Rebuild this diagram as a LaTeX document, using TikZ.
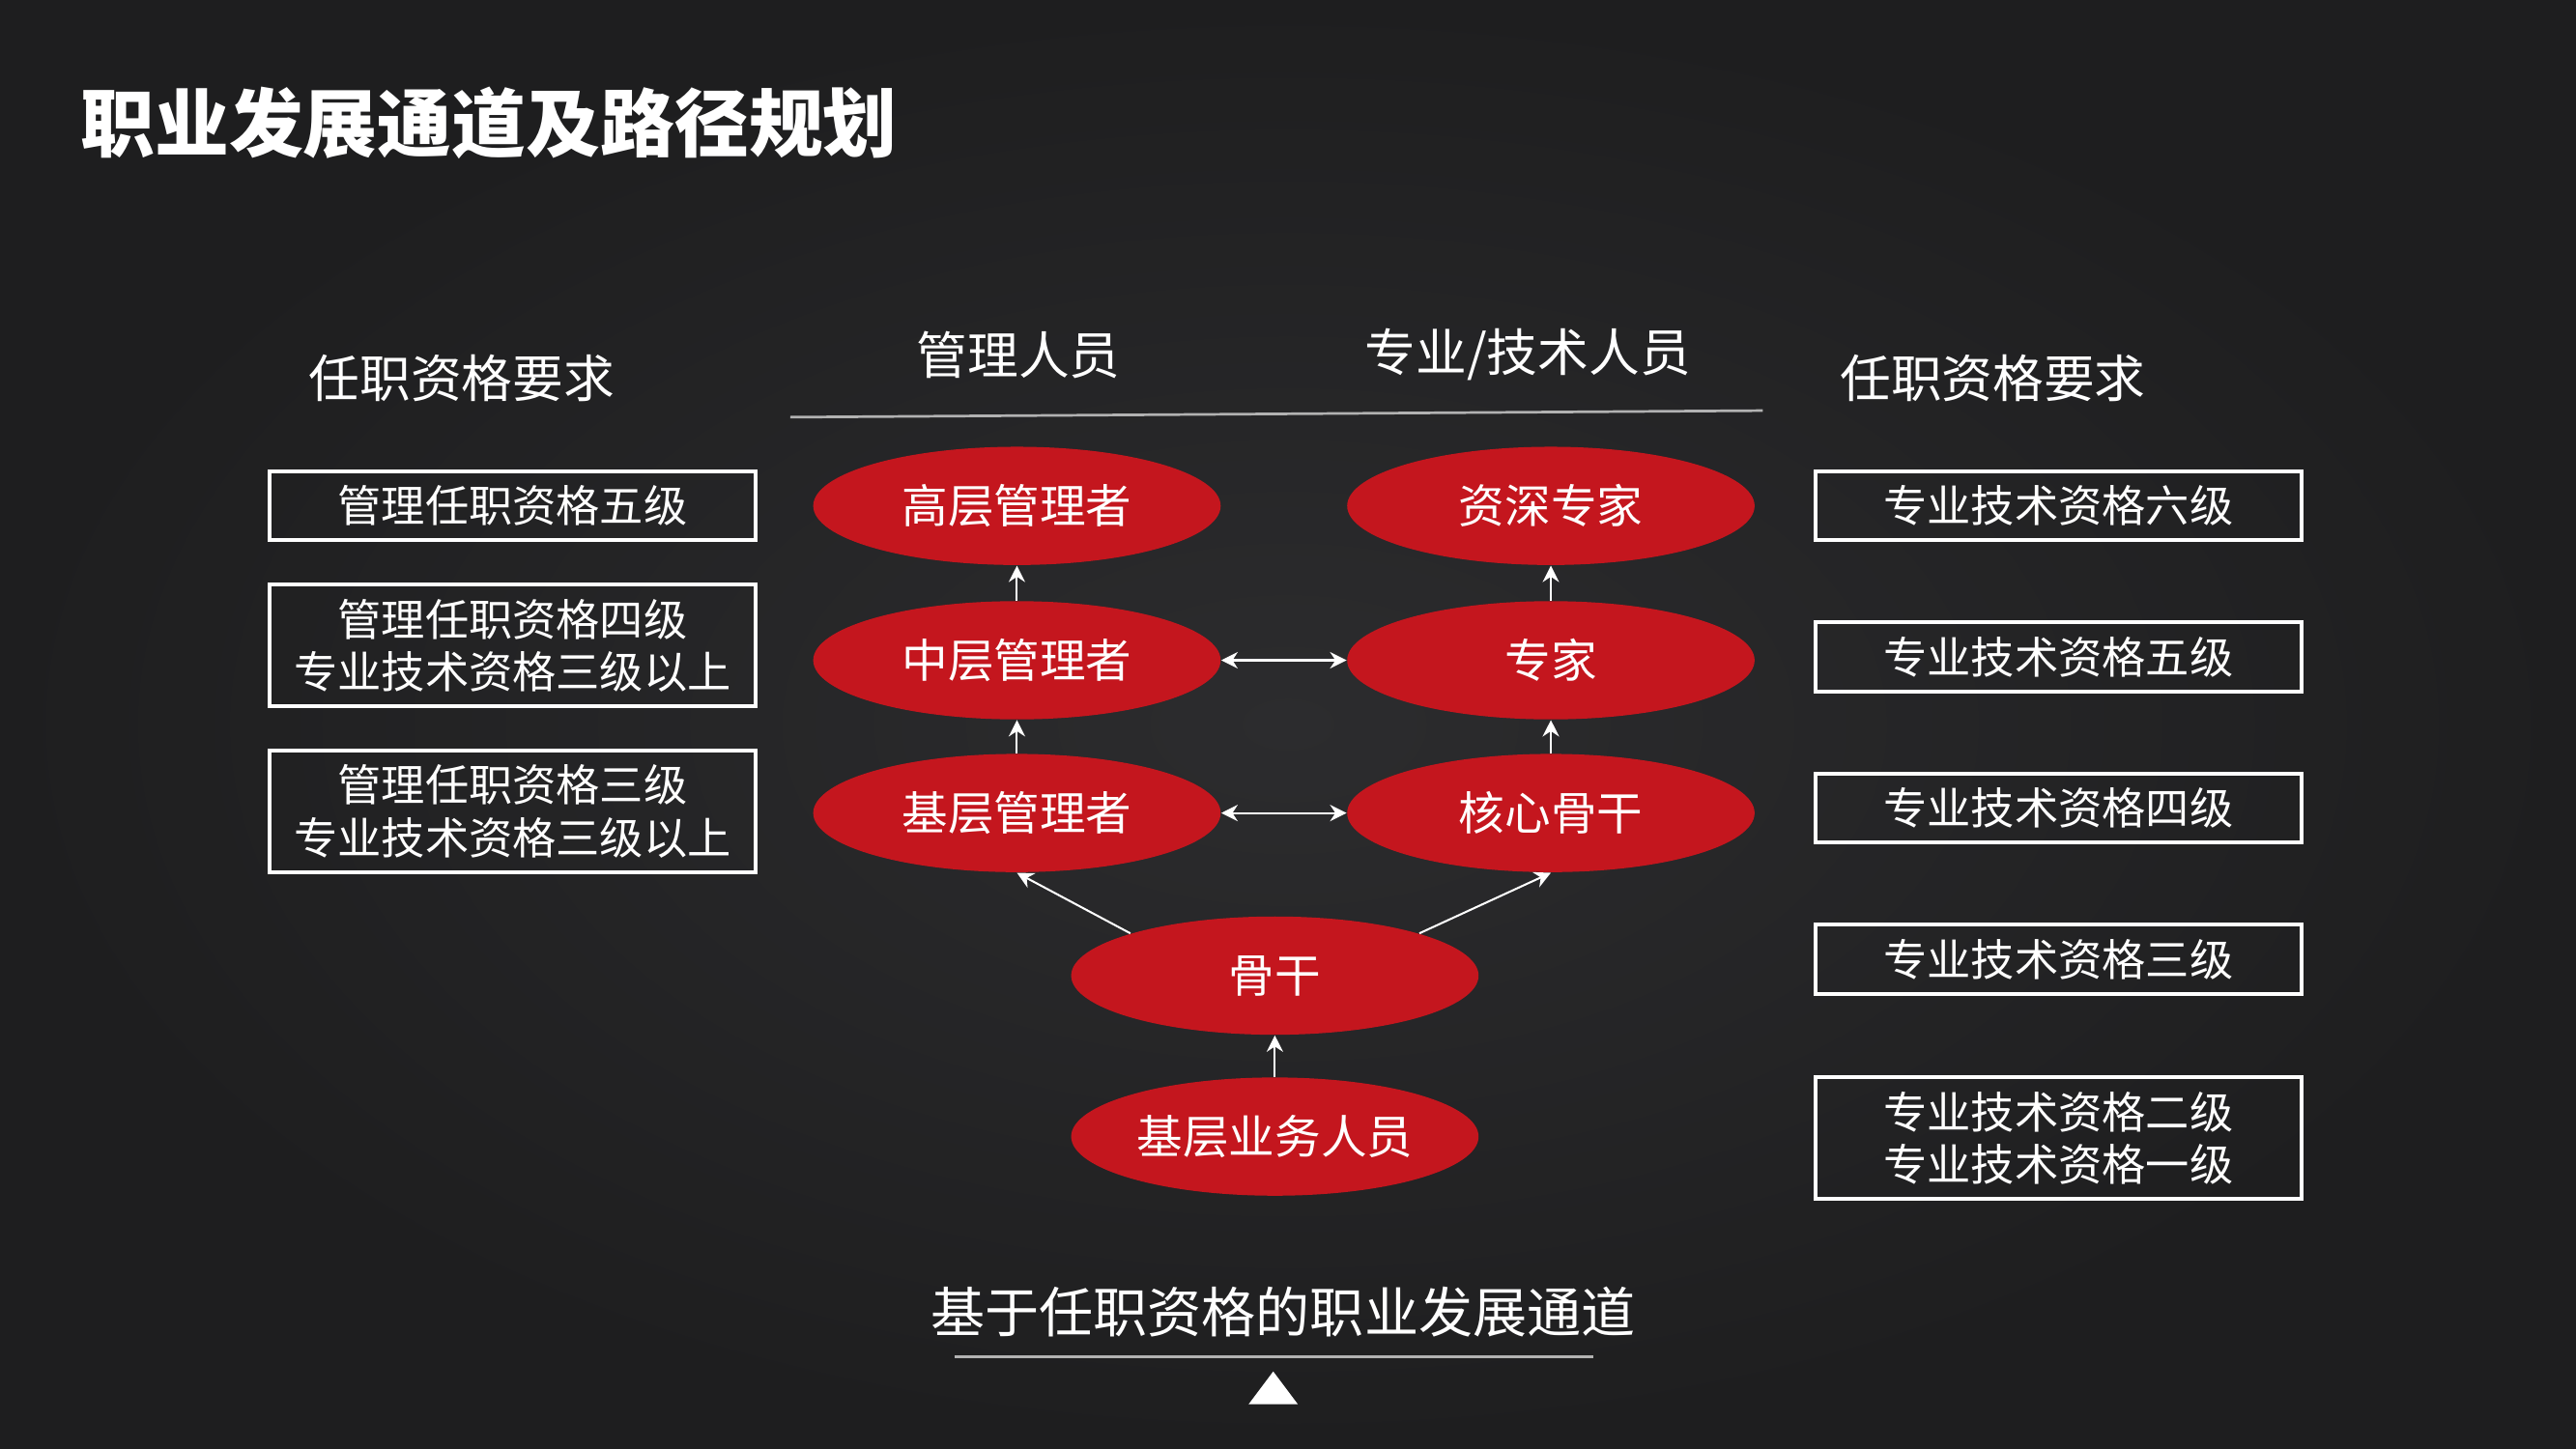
\documentclass[tikz,border=0pt]{standalone}
\usepackage{fontspec}
\setmainfont{Noto Sans CJK SC}
\usetikzlibrary{arrows.meta,shapes.geometric}
\definecolor{bgdark}{RGB}{30,30,31}
\definecolor{bgmid}{RGB}{44,44,46}
\definecolor{redfill}{RGB}{196,22,30}
\tikzset{
  qual/.style={draw=white,line width=1.2pt,minimum width=148pt,align=center,text=white,font=\fontsize{13.3}{16}\selectfont},
  post/.style={ellipse,fill=redfill,minimum width=124pt,minimum height=36pt,inner sep=0pt,text=white,font=\fontsize{14}{16}\selectfont},
  head/.style={text=white,font=\fontsize{15.5}{18}\selectfont},
  arr/.style={-{Stealth[length=5pt,width=5pt]},white,line width=0.6pt},
  darr/.style={{Stealth[length=5pt,width=5pt]}-{Stealth[length=5pt,width=5pt]},white,line width=0.6pt}
}
\begin{document}
\begin{tikzpicture}[x=0.5pt,y=0.5pt,yscale=-1,xscale=1]
\fill[inner color=bgmid,outer color=bgdark] (0,0) rectangle (1568,882);
\useasboundingbox (0,0) rectangle (1568,882);
% Title
\node[anchor=west,text=white,font=\fontsize{22.6}{26}\selectfont\bfseries] (title) at (42,75) {职业发展通道及路径规划};
% Column heads
\node[head] (hleft) at (281,230) {任职资格要求};
\node[head] (hmgr) at (620,216) {管理人员};
\node[head] (htech) at (930,216) {专业/技术人员};
\node[head] (hright) at (1213,230) {任职资格要求};
\coordinate (ha) at (481,254);
\coordinate (hb) at (1073,250);
\draw[white!70!black,line width=0.8pt] (ha) -- (hb);
% Left requirements
\node[qual,minimum height=21pt] (l1) at (312,308) {管理任职资格五级};
\node[qual,minimum height=37pt] (l2) at (312,393) {管理任职资格四级\\专业技术资格三级以上};
\node[qual,minimum height=37pt] (l3) at (312,494) {管理任职资格三级\\专业技术资格三级以上};
% Right requirements
\node[qual,minimum height=21pt] (r1) at (1253,308) {专业技术资格六级};
\node[qual,minimum height=21pt] (r2) at (1253,400) {专业技术资格五级};
\node[qual,minimum height=21pt] (r3) at (1253,492) {专业技术资格四级};
\node[qual,minimum height=21pt] (r4) at (1253,584) {专业技术资格三级};
\node[qual,minimum height=37pt] (r5) at (1253,693) {专业技术资格二级\\专业技术资格一级};
% Posts
\node[post] (top) at (619,308) {高层管理者};
\node[post] (senior) at (944,308) {资深专家};
\node[post] (middle) at (619,402) {中层管理者};
\node[post] (expert) at (944,402) {专家};
\node[post] (base) at (619,495) {基层管理者};
\node[post] (core) at (944,495) {核心骨干};
\node[post] (backbone) at (776,594) {骨干};
\node[post] (staff) at (776,692) {基层业务人员};
% Connectors
\draw[arr] (middle) -- (top);
\draw[arr] (base) -- (middle);
\draw[arr] (expert) -- (senior);
\draw[arr] (core) -- (expert);
\draw[darr] (middle) -- (expert);
\draw[darr] (base) -- (core);
\draw[arr] (backbone.north west) -- (base.south);
\draw[arr] (backbone.north east) -- (core.south);
\draw[arr] (staff) -- (backbone);
% Bottom caption
\node[head,font=\fontsize{16.5}{19}\selectfont] (caption) at (781,799) {基于任职资格的职业发展通道};
\coordinate (ca) at (581,826);
\coordinate (cb) at (970,826);
\draw[white!70!black,line width=0.8pt] (ca) -- (cb);
\fill[white] (760,855) -- (775,835) -- (790,855) -- cycle;
\end{tikzpicture}
\end{document}
